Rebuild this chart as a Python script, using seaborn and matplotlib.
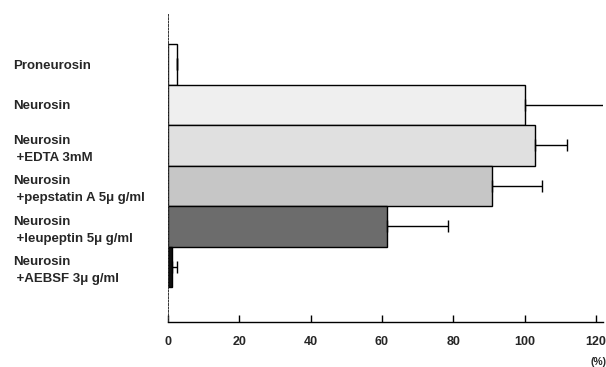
import numpy as np
import pandas as pd
import seaborn as sns
import matplotlib.pyplot as plt

sns.set_theme(style="white")
plt.rcParams['font.family'] = ['Liberation Sans', 'DejaVu Sans']

labels = [
    "Proneurosin",
    "Neurosin",
    "Neurosin\n +EDTA 3mM",
    "Neurosin\n +pepstatin A 5\u03bc g/ml",
    "Neurosin\n +leupeptin 5\u03bc g/ml",
    "Neurosin\n +AEBSF 3\u03bc g/ml",
]
activity = [2.5, 100, 103, 91, 61.5, 1]
sd = [0, 24, 9, 14, 17, 1.5]
colors = ["#ffffff", "#efefef", "#e0e0e0", "#c6c6c6", "#6c6c6c", "#111111"]
ticks = [0, 20, 40, 60, 80, 100, 120]

df = pd.DataFrame({"label": labels, "activity": activity})

fig = plt.figure(figsize=(6.06, 3.67), dpi=100)
ax = fig.add_axes([0.2772, 0.1226, 0.7178, 0.8393])

sns.barplot(data=df, x="activity", y="label", hue="label", palette=colors,
            orient="h", width=1.0, edgecolor="black", linewidth=1.0,
            legend=False, ax=ax)

# one-sided error bars (right side only)
ypos = np.arange(len(labels))
ax.errorbar(activity, ypos, xerr=[np.zeros(len(sd)), sd], fmt="none",
            ecolor="black", elinewidth=1.0, capsize=4, capthick=1.0)

ax.set_xlim(0, 122)
ax.set_ylim(6.36, -1.24)
ax.set_xticks(ticks)
ax.set_xticklabels([str(t) for t in ticks], fontweight="bold", fontsize=9)
ax.set_xlabel("")
ax.set_ylabel("")

ax.set_yticks(ypos)
ax.set_yticklabels(labels, fontsize=9.5, fontweight="bold", ha="left",
                   multialignment="left", linespacing=1.55)
ax.tick_params(axis="y", length=0, pad=111.5)
ax.tick_params(axis="x", direction="in", length=5, width=1, color="black",
               pad=10, bottom=True)

for s in ["top", "right"]:
    ax.spines[s].set_visible(False)
ax.spines["bottom"].set_color("black")
ax.spines["bottom"].set_linewidth(1.0)
ax.spines["left"].set_color("#333333")
ax.spines["left"].set_linewidth(0.7)
ax.spines["left"].set_linestyle((0, (2, 1.5)))

fig.text(0.988, 0.0, "(%)", ha="center", va="bottom", fontsize=7.5,
         fontweight="bold")

fig.savefig("out.png", dpi=100)
